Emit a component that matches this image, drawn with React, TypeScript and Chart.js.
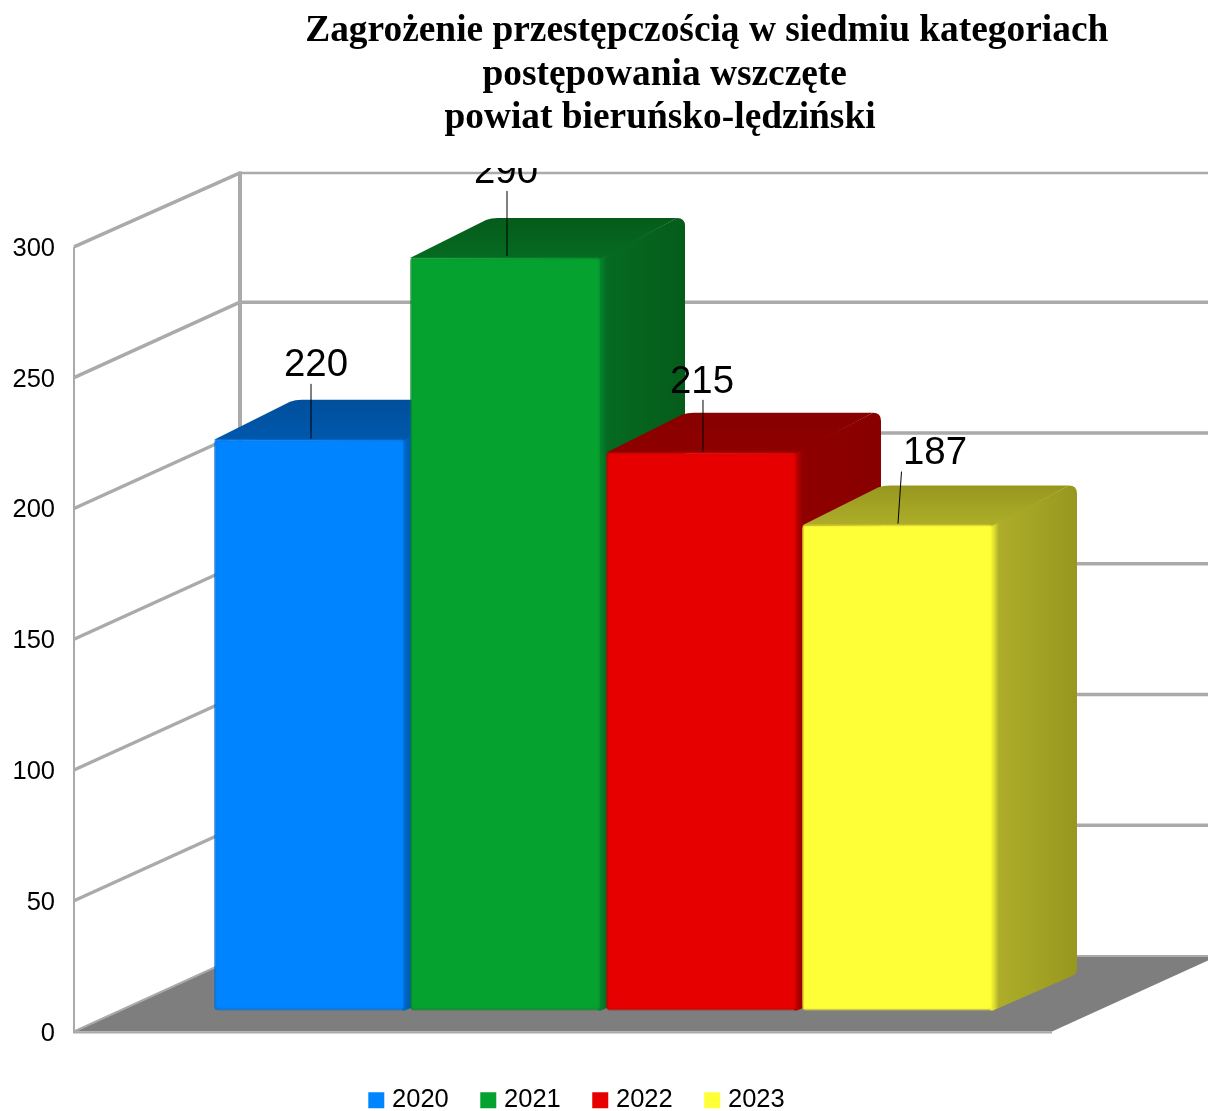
import React, { useEffect, useRef } from "react";
import { Chart, registerables } from "chart.js";

Chart.register(...registerables);

const CATEGORIES = [""];
const YEARS = ["2020", "2021", "2022", "2023"];
const VALUES = [220, 290, 215, 187];
const TITLE_LINES = [
  "\u00a0\u00a0\u00a0\u00a0\u00a0\u00a0\u00a0\u00a0\u00a0\u00a0Zagrożenie przestępczością w siedmiu kategoriach",
  "\u00a0postępowania wszczęte",
  "powiat bieruńsko-lędziński",
];
const Y_MIN = 0;
const Y_MAX = 300;
const Y_STEP = 50;

const FRONT = ["#0084ff", "#06a22f", "#e60000", "#ffff38"];
const EDGE = ["#0068c8", "#04822a", "#b80000", "#e8e830"];
const SIDE_NEAR = ["#0058ac", "#066a22", "#8f0000", "#adad2a"];
const SIDE_FAR = ["#004f9c", "#055c1a", "#880000", "#97971f"];

const FONT = "'Liberation Sans', Arial, sans-serif";
const GRID = "#aaaaaa";
const DX = 166;
const DY = -75.5;
const BAR_DX = 84;
const BAR_DY = -39;
const BAR_BASE_DY = -37;
const WALL_SHIFT = -2; // tick text sits a little below its wall line
const FLOOR_RIGHT_INSET = 81;

// label text offset (dx, dy from bar top centre) and leader start/end
const LABEL_PLACE = [
  { tx: 6.5, ty: -63, lx0: 1.5, ly0: -55, lx1: 1.5, ly1: 0 },
  { tx: 0.5, ty: -74, lx0: 1.5, ly0: -66, lx1: 1.5, ly1: -1 },
  { tx: 0.5, ty: -59, lx0: 1.5, ly0: -52, lx1: 1.5, ly1: 0 },
  { tx: 37.5, ty: -61, lx0: 4, ly0: -53, lx1: 0.5, ly1: -1 },
];

function drawExtrusion(chart: any, i: number, bar: any) {
  const { ctx } = chart;
  const { x, y, base, width } = bar.getProps(["x", "y", "base", "width"], true);
  const x0 = x - width / 2;
  const x1 = x + width / 2;
  const r = 8;
  ctx.save();
  ctx.filter = "blur(0.5px)";
  // top face
  const gTop = ctx.createLinearGradient(0, y, 0, y + BAR_DY);
  gTop.addColorStop(0, SIDE_NEAR[i]);
  gTop.addColorStop(1, SIDE_FAR[i]);
  ctx.fillStyle = gTop;
  ctx.beginPath();
  ctx.moveTo(x0, y + 1);
  ctx.lineTo(x0 + BAR_DX - r, y + BAR_DY + 2);
  ctx.quadraticCurveTo(x0 + BAR_DX - 3, y + BAR_DY, x0 + BAR_DX + 4, y + BAR_DY);
  ctx.lineTo(x1 + BAR_DX - r, y + BAR_DY);
  ctx.lineTo(x1, y + 2);
  ctx.closePath();
  ctx.fill();
  // side face
  const gSide = ctx.createLinearGradient(x1, 0, x1 + BAR_DX, 0);
  gSide.addColorStop(0, EDGE[i]);
  gSide.addColorStop(0.07, SIDE_NEAR[i]);
  gSide.addColorStop(1, SIDE_FAR[i]);
  ctx.fillStyle = gSide;
  ctx.beginPath();
  ctx.moveTo(x1 - 3, y + 2);
  ctx.lineTo(x1, y + 1);
  ctx.lineTo(x1 + BAR_DX - r, y + BAR_DY);
  ctx.quadraticCurveTo(x1 + BAR_DX, y + BAR_DY, x1 + BAR_DX, y + BAR_DY + r);
  ctx.lineTo(x1 + BAR_DX, base + BAR_BASE_DY - 4);
  ctx.quadraticCurveTo(x1 + BAR_DX, base + BAR_BASE_DY + 1, x1 + BAR_DX - 6, base + BAR_BASE_DY + 3);
  ctx.lineTo(x1, base);
  ctx.lineTo(x1 - 3, base);
  ctx.closePath();
  ctx.fill();
  ctx.restore();
  // solid body under the softened front face, so nothing shows through its edge
  ctx.save();
  ctx.fillStyle = FRONT[i];
  ctx.fillRect(x0 + 1.5, y + 1.5, width - 2.5, base - y - 3);
  ctx.restore();
}

function drawLabel(chart: any, i: number, bar: any, value: number) {
  const { ctx } = chart;
  const { x, y } = bar.getProps(["x", "y"], true);
  const p = LABEL_PLACE[i];
  ctx.save();
  ctx.beginPath();
  ctx.rect(0, 168, chart.width, chart.height);
  ctx.clip();
  ctx.fillStyle = "#000";
  ctx.font = `38.4px ${FONT}`;
  ctx.textAlign = "center";
  ctx.textBaseline = "alphabetic";
  ctx.fillText(String(value), x + p.tx, y + p.ty);
  ctx.strokeStyle = "#000";
  ctx.lineWidth = 1;
  ctx.beginPath();
  ctx.moveTo(x + p.lx0, y + p.ly0);
  ctx.lineTo(x + p.lx1, y + p.ly1);
  ctx.stroke();
  ctx.restore();
}

const wallPlugin = {
  id: "wall3d",
  beforeDatasetsDraw(chart: any) {
    const { ctx, chartArea, scales, width } = chart;
    const y = scales.y;
    const left = chartArea.left;
    const right = chartArea.right - FLOOR_RIGHT_INSET;
    const bottom = chartArea.bottom + WALL_SHIFT;
    const top = chartArea.top + WALL_SHIFT;
    ctx.save();
    // floor
    ctx.fillStyle = "#7e7e7e";
    ctx.beginPath();
    ctx.moveTo(left, bottom);
    ctx.lineTo(right, bottom);
    ctx.lineTo(right + DX, bottom + DY);
    ctx.lineTo(left + DX, bottom + DY);
    ctx.closePath();
    ctx.fill();
    ctx.strokeStyle = GRID;
    ctx.lineCap = "butt";
    y.ticks.forEach((t: any, k: number) => {
      const py = y.getPixelForValue(t.value) + WALL_SHIFT;
      const isZero = t.value === 0;
      const isTop = k === y.ticks.length - 1;
      const backY = py + DY + (isTop ? 1.5 : 0);
      // side wall
      ctx.lineWidth = isZero ? 2 : 3.5;
      ctx.beginPath();
      ctx.moveTo(left, py);
      ctx.lineTo(left + DX, backY);
      ctx.stroke();
      // back wall
      ctx.lineWidth = isZero ? 2 : isTop ? 2.5 : 3.5;
      ctx.beginPath();
      ctx.moveTo(left + DX, backY);
      ctx.lineTo(width, backY);
      ctx.stroke();
    });
    // back corner
    ctx.lineWidth = 4;
    ctx.beginPath();
    ctx.moveTo(left + DX, top + DY);
    ctx.lineTo(left + DX, bottom + DY);
    ctx.stroke();
    // front edge
    ctx.lineWidth = 2;
    ctx.beginPath();
    ctx.moveTo(left, top);
    ctx.lineTo(left, bottom + 1);
    ctx.lineTo(right, bottom + 1);
    ctx.stroke();
    ctx.restore();

    // bars in dataset order, so that each later one covers the one before it
    chart.data.datasets.forEach((_: any, i: number) => {
      const meta = chart.getDatasetMeta(i);
      drawExtrusion(chart, i, meta.data[0]);
      ctx.save();
      ctx.filter = "blur(0.9px)";
      meta.controller.draw();
      ctx.restore();
    });
    chart.data.datasets.forEach((ds: any, i: number) => {
      drawLabel(chart, i, chart.getDatasetMeta(i).data[0], ds.data[0]);
    });
    return false;
  },
  afterLayout(chart: any) {
    const title = chart.titleBlock;
    if (title) {
      title.left = 112;
      title.right = 1208;
      title.width = 1096;
    }
    const legend = chart.legend;
    if (legend) {
      legend.left = 2.5;
      legend.right = 1155.5;
      legend.width = 1153;
      legend.top = 1087.5 - legend.options.labels.padding;
      legend.bottom = 1111;
      legend.height = legend.bottom - legend.top;
    }
  },
};

export default function App() {
  const ref = useRef<HTMLCanvasElement | null>(null);
  useEffect(() => {
    const chart = new Chart(ref.current as HTMLCanvasElement, {
      type: "bar",
      data: {
        labels: CATEGORIES,
        datasets: YEARS.map((year, i) => ({
          label: year,
          data: [VALUES[i]],
          yAxisID: "yb",
          backgroundColor: FRONT[i],
          borderColor: EDGE[i],
          borderWidth: 2,
          borderRadius: 4,
          borderSkipped: false,
          categoryPercentage: 0.7403,
          barPercentage: 0.9745,
        })),
      },
      options: {
        animation: false,
        responsive: false,
        layout: { padding: { left: 0, right: 75, top: 0, bottom: 5.5 } },
        scales: {
          x: { display: false, offset: true },
          y: {
            position: "left",
            min: Y_MIN,
            max: Y_MAX,
            ticks: {
              stepSize: Y_STEP,
              color: "#000",
              padding: 19,
              font: { family: FONT, size: 25.5 },
            },
            grid: { display: false, drawTicks: false },
            border: { display: false },
            afterFit(scale: any) {
              scale.width = 74;
            },
          },
          yb: {
            display: false,
            position: "left",
            min: -8.87,
            max: 293.1,
          },
        },
        plugins: {
          title: {
            display: true,
            text: TITLE_LINES,
            color: "#000",
            font: { family: "'Liberation Serif', serif", size: 37.4, weight: "bold", lineHeight: 1.16 },
            padding: { top: 10, bottom: 108.8 },
          },
          legend: {
            display: true,
            position: "bottom",
            labels: {
              color: "#000",
              font: { family: FONT, size: 25.5 },
              usePointStyle: true,
              pointStyle: "rect",
              boxWidth: 6,
              boxHeight: 16,
              padding: 36.5,
              generateLabels(c: any) {
                return Chart.defaults.plugins.legend.labels
                  .generateLabels(c)
                  .map((l: any) => ({ ...l, lineWidth: 0, fillStyle: FRONT[l.datasetIndex] }));
              },
            },
          },
          tooltip: { enabled: false },
        },
      },
      plugins: [wallPlugin],
    } as any);
    return () => chart.destroy();
  }, []);
  return (
    <canvas
      ref={ref}
      width={1208}
      height={1111}
      style={{ position: "absolute", left: 0, top: 0, width: 1208, height: 1111, display: "block", filter: "blur(0.4px)" }}
    />
  );
}
